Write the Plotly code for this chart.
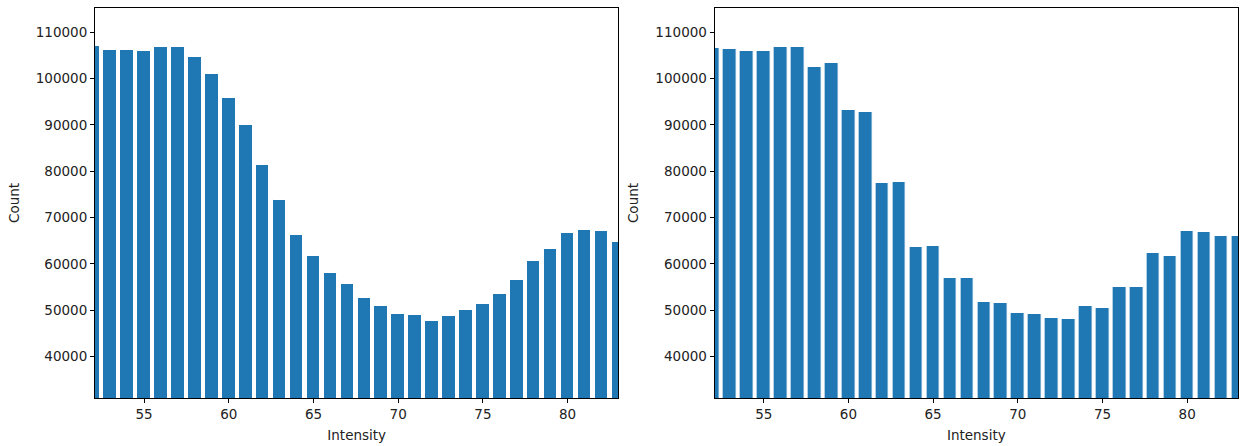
import plotly.graph_objects as go
from plotly.subplots import make_subplots

intensity = list(range(52, 84))
count_left = [106900, 106060, 106060, 105840, 106700, 106700, 104700, 101030,
              95800, 89920, 81310, 73700, 66250, 61650, 58070, 55770,
              52760, 50970, 49320, 49100, 47740, 48890, 50110, 51400,
              53470, 56630, 60720, 63240, 66680, 67330, 67110, 64810]
count_right = [106490, 106270, 105840, 105840, 106700, 106700, 102400, 103330,
               93150, 92860, 77440, 77580, 63730, 63950, 56920, 56920,
               51900, 51690, 49380, 49170, 48450, 48240, 51040, 50540,
               55130, 55130, 62380, 61730, 67180, 66900, 66100, 66100]
x_ticks = [55, 60, 65, 70, 75, 80]
y_ticks = [40000, 50000, 60000, 70000, 80000, 90000, 100000, 110000]
y_tick_labels = [str(v) for v in y_ticks]

fig = make_subplots(rows=1, cols=2, horizontal_spacing=0.0842)
for col, vals in ((1, count_left), (2, count_right)):
    fig.add_trace(go.Bar(x=intensity, y=vals, width=0.8,
                         marker=dict(color="#1f77b4", line=dict(color="white", width=1)),
                         showlegend=False), row=1, col=col)

axis_font = dict(family="DejaVu Sans", size=13.5, color="#222")
for col in (1, 2):
    fig.update_xaxes(range=[52.1, 83.0], tickvals=x_ticks, ticks="outside", ticklen=4,
                     tickcolor="black", showline=True, linecolor="black", linewidth=1,
                     mirror=True, showgrid=False, zeroline=False, tickfont=axis_font,
                     title=dict(text="Intensity", font=axis_font, standoff=9),
                     row=1, col=col)
    fig.update_yaxes(range=[31100, 115200], tickvals=y_ticks, ticktext=y_tick_labels,
                     ticks="outside", ticklen=4,
                     tickcolor="black", showline=True, linecolor="black", linewidth=1,
                     mirror=True, showgrid=False, zeroline=False, tickfont=axis_font,
                     title=dict(text="Count", font=axis_font, standoff=13),
                     row=1, col=col)

fig.update_layout(width=1241, height=446, margin=dict(l=95, r=3, t=8, b=48),
                  plot_bgcolor="white", paper_bgcolor="white", bargap=0)
fig.write_html("out.html", config={"displayModeBar": False},
               post_script="document.body.style.margin='0';")
